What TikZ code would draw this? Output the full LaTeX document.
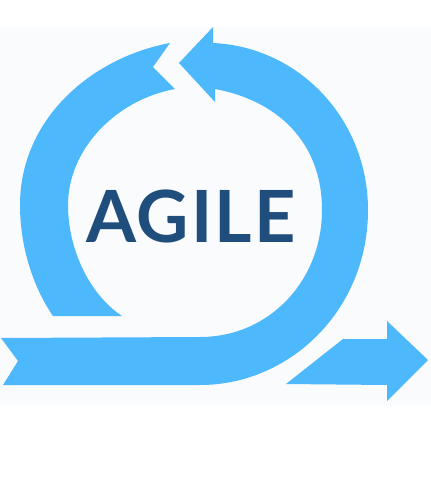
\documentclass[tikz,border=0pt]{standalone}
\usepackage{fontspec}
\setmainfont{Lato}[LetterSpace=3]

\begin{document}
\begin{tikzpicture}
		[x=1pt,y=-1pt,line cap=round,
		%Styles
		arrow part/.style={fill=arrowcolor,draw=none},
		title text/.style={text=titlecolor,font=\fontsize{72}{72}\selectfont\bfseries,inner sep=0pt}
		]
		
		%Colors
		\definecolor{arrowcolor}{RGB}{77,184,251}
		\definecolor{titlecolor}{RGB}{31,78,125}
		\definecolor{panelcolor}{RGB}{250,251,253}
		
		\useasboundingbox (0, 0) rectangle (431, 493);
		\fill[white] (0, 0) rectangle (431, 493);
		\fill[panelcolor] (0, 27) rectangle (431, 405);
		
		%The graphic
		
		%Left arc
		\fill[arrow part] (170, 43) .. controls (90, 58) and (20, 120) .. (20, 205)
			.. controls (20, 250) and (35, 290) .. (53, 316) -- (122, 316)
			.. controls (90, 295) and (68, 250) .. (68, 205)
			.. controls (68, 150) and (115, 100) .. (175, 89) -- (153, 67) -- cycle;
		
		%Big arc with the tail
		\fill[arrow part] (179, 63) -- (213, 27) -- (213, 43)
			.. controls (300, 47) and (368, 120) .. (368, 210)
			.. controls (368, 310) and (290, 385) .. (200, 385)
			-- (3, 385) -- (18, 361) -- (1, 338) -- (200, 337)
			.. controls (270, 337) and (322, 280) .. (322, 210)
			.. controls (322, 140) and (275, 100) .. (215, 89) -- (215, 102) -- cycle;
		
		%Right arrow
		\fill[arrow part] (286, 384) -- (343, 339) -- (387, 339) -- (387, 321)
			-- (428, 360) -- (387, 401) -- (387, 385) -- cycle;
		
		\node[title text] (agile) at (191, 216) {AGILE};
	\end{tikzpicture}
\end{document}
